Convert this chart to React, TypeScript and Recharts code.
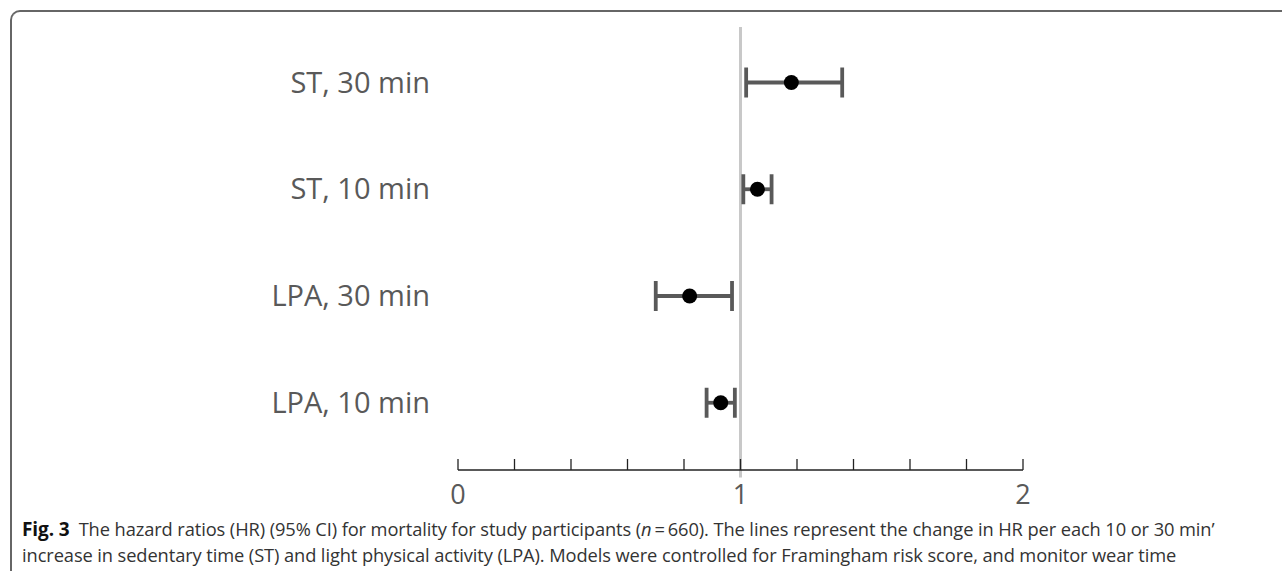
import React from "react";
import {
  ScatterChart,
  Scatter,
  XAxis,
  YAxis,
  ErrorBar,
  ReferenceLine,
} from "recharts";

const labels = ["ST, 30 min", "ST, 10 min", "LPA, 30 min", "LPA, 10 min"];
const rows = [4, 3, 2, 1];
const hr = [1.18, 1.06, 0.82, 0.93];
const lower = [1.02, 1.01, 0.7, 0.88];
const upper = [1.36, 1.11, 0.97, 0.98];
const xTicks = [0, 0.2, 0.4, 0.6, 0.8, 1, 1.2, 1.4, 1.6, 1.8, 2];
const xLabels = ["0", "1", "2"];

const data = labels.map((label, i) => ({
  label,
  row: rows[i],
  hr: hr[i],
  err: [+(hr[i] - lower[i]).toFixed(3), +(upper[i] - hr[i]).toFixed(3)],
}));

const FONT = "'Open Sans', 'Noto Sans', sans-serif";

function XTick(props: any) {
  const { x, y, payload } = props;
  const v = payload.value;
  const isInt = Math.abs(v - Math.round(v)) < 1e-6;
  return (
    <g>
      <line x1={x} x2={x} y1={y} y2={y - 11} stroke="#222" strokeWidth={1.3} />
      {isInt && (
        <text
          x={x}
          y={y + 34}
          textAnchor="middle"
          fill="#595959"
          fontSize={27}
          fontFamily={FONT}
        >
          {xLabels[Math.round(v)]}
        </text>
      )}
    </g>
  );
}

function YTick(props: any) {
  const { x, y, payload } = props;
  const idx = rows.indexOf(payload.value);
  return (
    <text
      x={x}
      y={y}
      dy={10}
      textAnchor="end"
      fill="#595959"
      fontSize={29}
      fontFamily={FONT}
    >
      {labels[idx]}
    </text>
  );
}

const Dot = (props: any) => {
  const { cx, cy } = props;
  return <circle cx={cx} cy={cy} r={7.5} fill="#000" />;
};

export default function App() {
  return (
    <div
      style={{
        position: "absolute",
        left: 0,
        top: 0,
        width: 1282,
        height: 571,
        background: "#fff",
        overflow: "hidden",
        fontFamily: FONT,
      }}
    >
      <div
        style={{
          position: "absolute",
          left: 10,
          top: 10,
          width: 1300,
          height: 600,
          borderTop: "2px solid #666",
          borderLeft: "2px solid #666",
          borderTopLeftRadius: 10,
        }}
      />
      <div style={{ position: "absolute", left: 0, top: 0 }}>
        <ScatterChart
          width={1282}
          height={520}
          margin={{ top: 27, right: 259, bottom: 10, left: 0 }}
        >
          <XAxis
            type="number"
            dataKey="hr"
            domain={[0, 2]}
            ticks={xTicks}
            interval={0}
            tickSize={0}
            tickMargin={0}
            tick={<XTick />}
            axisLine={{ stroke: "#222", strokeWidth: 1.3 }}
            tickLine={false}
            height={40}
          />
          <YAxis
            type="number"
            dataKey="row"
            domain={[0.37, 4.52]}
            ticks={rows}
            interval={0}
            width={458}
            tickSize={0}
            tickMargin={28}
            tick={<YTick />}
            axisLine={false}
            tickLine={false}
          />
          <ReferenceLine
            segment={[
              { x: 1, y: 4.52 },
              { x: 1, y: 0.3 },
            ]}
            stroke="#c8c8c8"
            strokeWidth={3}
            ifOverflow="visible"
          />
          <Scatter data={data} shape={<Dot />} isAnimationActive={false}>
            <ErrorBar
              dataKey="err"
              direction="x"
              width={15}
              stroke="#595959"
              strokeWidth={3.8}
              isAnimationActive={false}
            />
          </Scatter>
        </ScatterChart>
      </div>
      <div
        style={{
          position: "absolute",
          left: 22,
          top: 516,
          fontSize: 18.3,
          lineHeight: "25px",
          color: "#333",
          whiteSpace: "nowrap",
          letterSpacing: -0.1,
        }}
      >
        <div>
          <b style={{ color: "#111", fontSize: 19 }}>Fig. 3</b>
          {"\u2002"}The hazard ratios (HR) (95% CI) for mortality for study participants (
          <i>n</i>
          {"\u2009=\u2009"}660). The lines represent the change in HR per each 10 or 30 min’
        </div>
        <div>
          increase in sedentary time (ST) and light physical activity (LPA). Models were controlled for Framingham risk score, and monitor wear time
        </div>
      </div>
    </div>
  );
}
